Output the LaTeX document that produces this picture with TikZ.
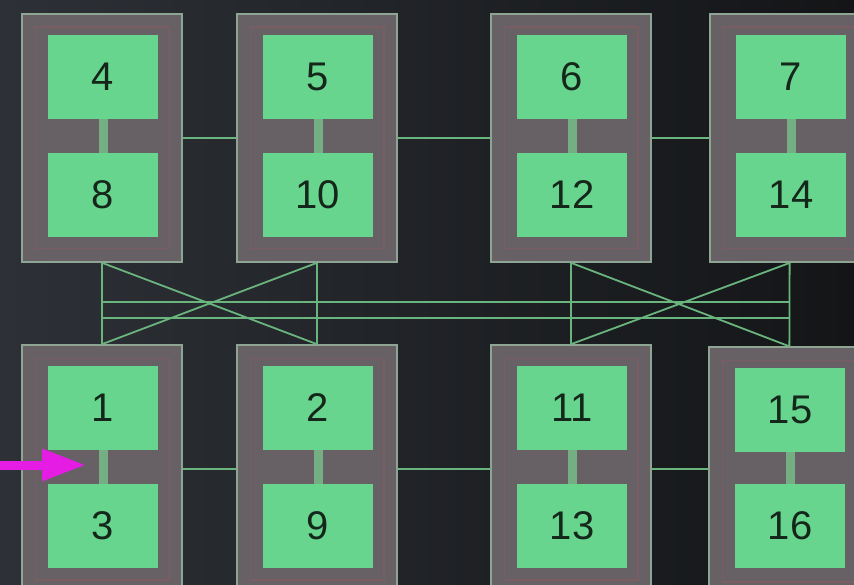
\documentclass[tikz,border=0pt]{standalone}
\usepackage{fontspec}
\setmainfont{Liberation Sans}
\usetikzlibrary{arrows.meta,calc}

\definecolor{bgL}{HTML}{2D3036}
\definecolor{bgR}{HTML}{131517}
\definecolor{cShell}{HTML}{676166}
\definecolor{cRim}{HTML}{8FA593}
\definecolor{cInRim}{HTML}{7A5C63}
\definecolor{cChip}{HTML}{68D58E}
\definecolor{cBar}{HTML}{76AE84}
\definecolor{cLink}{HTML}{6AB57E}
\definecolor{cFeed}{HTML}{E41CE4}
\definecolor{cDigit}{HTML}{15271B}

\begin{document}
\begin{tikzpicture}[x=1pt,y=-1pt,
    module/.style={draw=cRim, line width=1.6pt, fill=cShell, minimum width=160pt, minimum height=248pt, inner sep=0pt},
    inrim/.style={draw=cInRim, line width=1.4pt},
    chip/.style={fill=cChip, minimum width=110pt, minimum height=84pt, inner sep=0pt, text=cDigit, font=\fontsize{40}{42}\selectfont},
    bar/.style={draw=cBar, line width=9pt},
    link/.style={draw=cLink, line width=1.8pt},
    feed/.style={draw=cFeed, line width=9pt, -{Triangle[length=44pt,width=30pt]}}]
    \useasboundingbox (0,0) rectangle (854,585);
    \clip (0,0) rectangle (854,585);
    \shade[left color=bgL, right color=bgR] (0,0) rectangle (854,585);

    % modules, each with two chips
    \foreach \p/\q/\x/\y/\d in {4/8/102/138/57, 5/10/317/138/57, 6/12/571/138/57, 7/14/790/138/57, 1/3/102/469/57, 2/9/317/469/57, 11/13/571/469/57, 15/16/789/471/55} {
        \node[module] (M\p) at (\x,\y) {};
        \draw[inrim] ($(M\p.north west)+(14,14)$) rectangle ($(M\p.south east)+(-14,-14)$);
        \node[chip] (N\p) at (\x+1,\y-61) {\p};
        \node[chip] (N\q) at (\x+1,\y+\d) {\q};
        \draw[bar] (N\p) -- (N\q);
    }

    \draw[link] (M4) -- (M5); \draw[link] (M5) -- (M6); \draw[link] (M6) -- (M7);
    \draw[link] (M1) -- (M2); \draw[link] (M2) -- (M11); \draw[link] (M11) -- (M11 -| M15.west);

    \draw[link] (M4) -- (M1); \draw[link] (M5) -- (M2); \draw[link] (M6) -- (M11); \draw[link] (M7) -- (M15);
    \draw[link] (M4.south) -- (M2.north); \draw[link] (M5.south) -- (M1.north);
    \draw[link] (M6.south) -- (M15.north); \draw[link] (M7.south) -- (M11.north);

    \coordinate (busA) at (0,302); \coordinate (busB) at (0,318);
    \draw[link] (M4.south |- busA) -- (M7.south |- busA);
    \draw[link] (M4.south |- busB) -- (M7.south |- busB);

    \coordinate (src) at (0,465); \coordinate (dst) at (86,465);
    \draw[feed] (src) -- (dst);
\end{tikzpicture}
\end{document}
